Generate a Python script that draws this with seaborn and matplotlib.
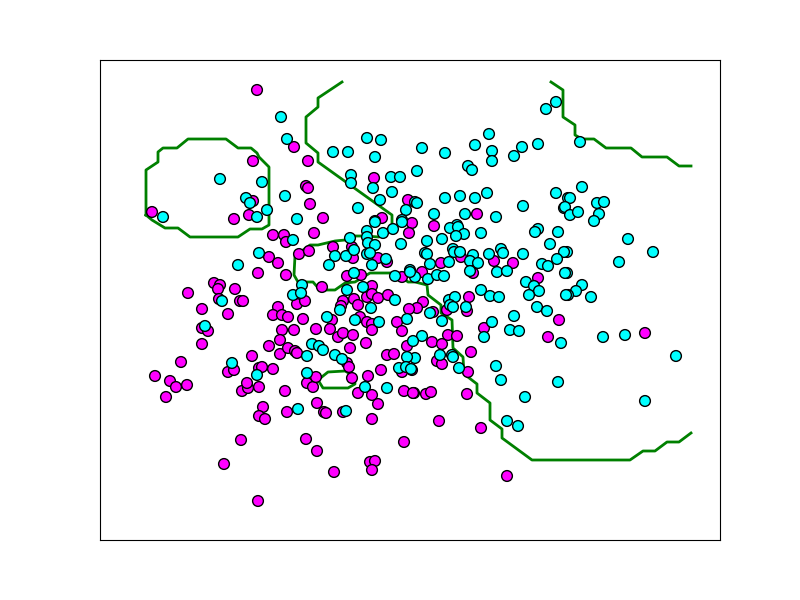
import matplotlib
matplotlib.use("Agg")
import matplotlib.pyplot as plt
import seaborn as sns
import pandas as pd

# class 1 (magenta) points
mag_x = [257, 253, 253, 152, 234, 249, 294, 308, 306, 308, 310, 323, 382, 374, 408, 412, 477, 434,
         461, 494, 513, 441, 422, 473, 538, 469, 423, 417, 447, 433, 467, 559, 484, 548, 432, 442,
         448, 457, 437, 442, 471, 468, 412, 645, 414, 426, 431, 467, 439, 481, 507, 259, 285, 307,
         313, 358, 372, 378, 404, 413, 263, 259, 265, 287, 317, 324, 326, 343, 372, 306, 317, 334,
         370, 375, 372, 404, 258, 155, 170, 176, 187, 166, 242, 248, 241, 224, 258, 188, 214, 220,
         218, 235, 219, 240, 243, 202, 228, 202, 208, 202, 181, 228, 234, 252, 259, 247, 273, 284,
         286, 314, 409, 269, 278, 286, 299, 309, 333, 352, 353, 378, 387, 347, 361, 322, 372, 367,
         372, 378, 402, 388, 297, 305, 343, 341, 354, 358, 409, 397, 278, 273, 282, 288, 303, 332,
         360, 367, 372, 372, 282, 294, 316, 330, 338, 343, 353, 402, 280, 269, 280, 288, 295, 297,
         350, 366, 407, 347, 349, 387, 394, 402, 381, 273, 262, 316, 368, 352]
mag_y = [90, 161, 201, 212, 219, 215, 147, 161, 186, 188, 204, 218, 218, 178, 200, 223, 214, 226,
         257, 261, 263, 263, 272, 273, 278, 297, 302, 308, 310, 312, 311, 320, 328, 337, 342, 344,
         335, 336, 361, 364, 352, 372, 370, 333, 393, 394, 392, 394, 421, 428, 476, 387, 391, 383,
         387, 393, 395, 404, 391, 393, 407, 416, 419, 412, 403, 412, 413, 412, 419, 439, 451, 472,
         462, 461, 470, 442, 501, 376, 381, 387, 385, 397, 391, 388, 440, 464, 273, 293, 283, 285,
         289, 289, 299, 301, 301, 309, 314, 328, 331, 344, 362, 372, 370, 356, 368, 383, 235, 235,
         242, 233, 233, 257, 263, 275, 254, 251, 247, 247, 258, 258, 262, 276, 275, 287, 286, 297,
         294, 298, 277, 295, 304, 301, 301, 306, 299, 305, 309, 322, 307, 315, 315, 317, 319, 320,
         317, 322, 324, 330, 330, 330, 329, 329, 337, 333, 335, 331, 340, 346, 354, 348, 351, 353,
         348, 343, 346, 363, 367, 355, 354, 372, 370, 369, 367, 377, 376, 378]

# class 0 (cyan) points
cyan_x = [220, 163, 246, 250, 257, 262, 267, 281, 287, 333, 348, 367, 381, 375, 351, 351, 373, 391,
          400, 417, 285, 380, 392, 415, 358, 406, 297, 375, 402, 556, 546, 489, 475, 492, 492, 522,
          514, 538, 422, 445, 468, 472, 417, 445, 460, 475, 487, 434, 465, 496, 523, 556, 568, 564,
          457, 580, 582, 570, 565, 570, 578, 597, 604, 599, 594, 628, 653, 619, 567, 567, 582, 576,
          568, 591, 603, 625, 676, 561, 645, 450, 458, 464, 456, 442, 427, 481, 538, 535, 558, 550,
          564, 425, 427, 453, 454, 460, 473, 489, 501, 503, 523, 470, 478, 449, 430, 410, 415, 428,
          437, 444, 470, 497, 507, 542, 548, 557, 565, 526, 534, 539, 529, 566, 481, 490, 499, 449,
          455, 450, 430, 453, 466, 442, 514, 537, 547, 492, 484, 510, 519, 422, 413, 440, 452, 453,
          459, 496, 501, 558, 415, 525, 507, 518, 365, 387, 298, 346, 259, 238, 222, 205, 232, 257,
          293, 367, 375, 383, 393, 402, 350, 335, 329, 346, 354, 367, 368, 375, 367, 370, 386, 401,
          372, 354, 302, 347, 363, 395, 410, 395, 293, 301, 340, 371, 407, 327, 355, 379, 312, 319,
          323, 307, 335, 342, 407, 399, 406, 411, 307]
cyan_y = [179, 217, 198, 203, 217, 182, 210, 117, 139, 152, 152, 138, 140, 157, 175, 183, 188, 177,
          177, 171, 196, 200, 192, 202, 208, 210, 219, 221, 220, 102, 109, 134, 145, 151, 161, 147,
          156, 144, 148, 153, 166, 170, 203, 198, 196, 198, 193, 214, 214, 217, 206, 193, 198, 208,
          225, 142, 187, 198, 207, 215, 212, 203, 202, 214, 221, 239, 252, 262, 252, 273, 285, 291,
          295, 297, 337, 335, 356, 343, 401, 228, 227, 234, 236, 239, 241, 233, 229, 232, 232, 244,
          252, 253, 254, 249, 252, 252, 255, 254, 249, 253, 254, 261, 263, 262, 264, 270, 277, 279,
          275, 276, 271, 272, 271, 264, 266, 259, 273, 282, 286, 291, 295, 295, 290, 296, 297, 300,
          297, 305, 313, 307, 307, 321, 316, 307, 311, 322, 337, 330, 331, 336, 341, 355, 355, 357,
          368, 366, 380, 382, 358, 397, 421, 426, 387, 388, 409, 411, 253, 265, 301, 326, 363, 375,
          240, 231, 222, 233, 229, 222, 238, 256, 265, 256, 250, 237, 243, 245, 254, 253, 259, 244,
          265, 273, 285, 290, 287, 276, 272, 300, 295, 293, 310, 308, 319, 317, 320, 322, 344, 346,
          350, 356, 355, 359, 357, 368, 367, 369, 373]

# decision boundary pieces
loop_x = [146, 146, 158, 158, 163, 177, 188, 226, 238, 251, 257, 259, 269, 269, 262, 250, 238, 190,
          178, 165, 152, 146]
loop_y = [215, 170, 162, 152, 148, 148, 139, 139, 148, 148, 153, 157, 167, 225, 229, 229, 237, 237,
          228, 228, 220, 215]
main_x = [342, 318, 318, 306, 306, 318, 318, 392, 392, 379, 365, 352, 345, 335, 318, 310, 295, 294,
          298, 313, 320, 335, 345, 355, 370, 398, 408, 415, 427, 428, 441, 441, 452, 453, 463, 464,
          477, 477, 490, 490, 502, 502, 532, 630, 643, 655, 667, 679, 691]
main_y = [82, 98, 107, 117, 143, 153, 162, 215, 225, 237, 236, 236, 240, 241, 245, 245, 256, 275,
          282, 282, 290, 290, 283, 282, 273, 273, 282, 282, 285, 295, 305, 313, 320, 348, 357, 374,
          384, 393, 403, 420, 429, 438, 460, 460, 451, 451, 442, 442, 433]
top_x = [551, 563, 563, 575, 575, 582, 594, 606, 631, 642, 667, 679, 691]
top_y = [82, 90, 117, 125, 135, 139, 139, 148, 148, 157, 157, 166, 166]
small_x = [318, 328, 345, 354, 355, 348, 323, 318]
small_y = [380, 372, 371, 376, 384, 388, 388, 380]

df = pd.concat([
    pd.DataFrame({"x": mag_x, "y": mag_y, "cls": "m"}),
    pd.DataFrame({"x": cyan_x, "y": cyan_y, "cls": "c"}),
])

fig = plt.figure(figsize=(8, 6), dpi=100)
ax = fig.add_axes([0.125, 0.1, 0.775, 0.8])

for bx, by in [(loop_x, loop_y), (main_x, main_y), (top_x, top_y), (small_x, small_y)]:
    ax.plot(bx, by, color="green", lw=2, zorder=1)

sns.scatterplot(data=df, x="x", y="y", hue="cls", palette={"m": "magenta", "c": "cyan"},
                edgecolor="k", linewidth=1, s=60, legend=False, ax=ax, zorder=2)

ax.set_xlim(100, 720)
ax.set_ylim(540, 60)
ax.set_xticks([])
ax.set_yticks([])
ax.set_xlabel("")
ax.set_ylabel("")

plt.savefig("out.png", dpi=100)
